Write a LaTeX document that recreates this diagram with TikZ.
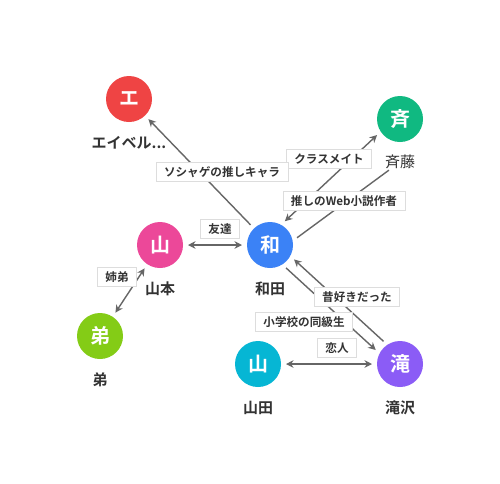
\documentclass[tikz,border=0pt]{standalone}
\usepackage{fontspec}
\setmainfont{Noto Sans CJK JP}[BoldFont={Noto Sans CJK JP Bold}]
\usetikzlibrary{arrows.meta}
\definecolor{cred}{HTML}{EF4444}
\definecolor{cgreen}{HTML}{10B981}
\definecolor{cpink}{HTML}{EC4899}
\definecolor{cblue}{HTML}{3B82F6}
\definecolor{clime}{HTML}{84CC16}
\definecolor{ccyan}{HTML}{06B6D4}
\definecolor{cviolet}{HTML}{8B5CF6}
\definecolor{textc}{HTML}{333333}
\definecolor{linec}{HTML}{666666}
\definecolor{boxc}{HTML}{DDDDDD}
\tikzset{
  person/.style={circle,fill=#1,minimum size=46pt,inner sep=0pt,outer sep=5pt,text=white,font=\fontsize{20}{20}\selectfont\bfseries},
  who/.style={text=textc,font=\fontsize{15}{15}\selectfont\bfseries,inner sep=1pt},
  rel/.style={draw=boxc,fill=white,line width=0.7pt,text=textc,font=\fontsize{11.6}{11.6}\selectfont\bfseries,inner xsep=8pt,inner ysep=0pt,minimum height=19.5pt},
  link/.style={draw=linec,line width=1.4pt},
  arr/.style={-{Stealth[length=7.5pt,width=7.5pt]}},
  arrs/.style={{Stealth[length=7.5pt,width=7.5pt]}-{Stealth[length=7.5pt,width=7.5pt]}}
}
\begin{document}
\begin{tikzpicture}[x=1pt,y=-1pt]
    \fill[white] (0,0) rectangle (500,483);
    \useasboundingbox (0,0) rectangle (500,483);

    \node[person=cred] (e) at (129,99) {エ};
    \node[person=cgreen] (sai) at (400,119) {斉};
    \node[person=cpink] (yama) at (160,245) {山};
    \node[person=cblue] (wa) at (270,245) {和};
    \node[person=clime] (oto) at (100,336) {弟};
    \node[person=ccyan] (yamada) at (258,364) {山};
    \node[person=cviolet] (taki) at (400,364) {滝};

    \node[who] (n-e) at (129,143) {エイベル...};
    \node[who,font=\fontsize{15}{15}\selectfont,fill=white] (n-sai) at (400,162) {斉藤};
    \node[who] (n-yama) at (160,289) {山本};
    \node[who] (n-wa) at (270,289) {和田};
    \node[who] (n-oto) at (100,380) {弟};
    \node[who] (n-yamada) at (258,408) {山田};
    \node[who] (n-taki) at (400,408) {滝沢};

    \draw[link,arr] (wa) -- (e);
    \draw[link,arrs] (wa.58) -- (sai.215);
    \draw[link] (wa.15) -- (n-sai);
    \draw[link,arrs] (yama) -- (wa);
    \draw[link,arrs] (yama) -- (oto);
    \draw[link,arr] (taki.126) -- (wa.-31);
    \draw[link,arr] (wa.-55) -- (taki.150);
    \draw[link,arrs] (yamada) -- (taki);

    \node[rel] (r-class) at (329,159) {クラスメイト};
    \node[rel] (r-oshi) at (222,172) {ソシャゲの推しキャラ};
    \node[rel] (r-web) at (344,201) {推しのWeb小説作者};
    \node[rel] (r-friend) at (220,229) {友達};
    \node[rel] (r-sib) at (117,277) {姉弟};
    \node[rel] (r-mukashi) at (357,297) {昔好きだった};
    \node[rel] (r-school) at (304,322) {小学校の同級生};
    \node[rel] (r-koi) at (337,348) {恋人};
\end{tikzpicture}
\end{document}
